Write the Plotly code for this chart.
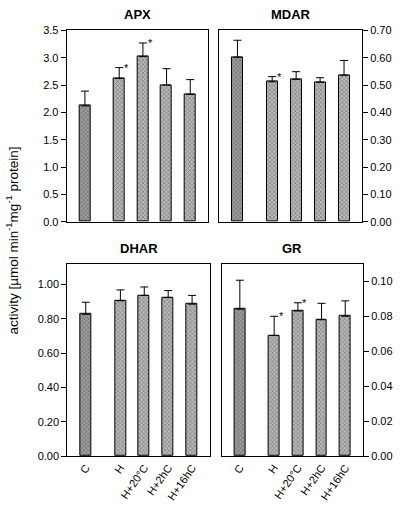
import plotly.graph_objects as go

categories = ["C", "H", "H+20°C", "H+2hC", "H+16hC"]
xpos = [0, 1.45, 2.45, 3.45, 4.45]

apx = [2.12, 2.62, 3.02, 2.50, 2.33]
apx_err = [0.27, 0.20, 0.25, 0.30, 0.27]
apx_sig = [False, True, True, False, False]

mdar = [0.602, 0.512, 0.521, 0.510, 0.536]
mdar_err = [0.062, 0.019, 0.028, 0.017, 0.054]
mdar_sig = [False, True, False, False, False]

dhar = [0.826, 0.905, 0.936, 0.924, 0.885]
dhar_err = [0.070, 0.063, 0.049, 0.040, 0.051]
dhar_sig = [False, False, False, False, False]

gr = [0.084, 0.069, 0.083, 0.078, 0.080]
gr_err = [0.0166, 0.011, 0.0047, 0.0094, 0.0088]
gr_sig = [False, True, True, False, False]

panels = [
    dict(name="APX", vals=apx, err=apx_err, sig=apx_sig, rng=[0, 3.5], dtick=0.5, fmt=".1f",
         xd=[0.1667, 0.52], yd=[0.5658, 0.9509], side="left", labels=False),
    dict(name="MDAR", vals=mdar, err=mdar_err, sig=mdar_sig, rng=[0, 0.7], dtick=0.1, fmt=".2f",
         xd=[0.5475, 0.905], yd=[0.5658, 0.9509], side="right", labels=False),
    dict(name="DHAR", vals=dhar, err=dhar_err, sig=dhar_sig, rng=[0, 1.12], dtick=0.2, fmt=".2f",
         xd=[0.1683, 0.525], yd=[0.0943, 0.4813], side="left", labels=True),
    dict(name="GR", vals=gr, err=gr_err, sig=gr_sig, rng=[0, 0.11], dtick=0.02, fmt=".2f",
         xd=[0.554, 0.9075], yd=[0.0943, 0.4813], side="right", labels=True),
]

fig = go.Figure()
font = "Liberation Sans, Arial, sans-serif"
annotations = []
layout = {}
for i, p in enumerate(panels):
    n = "" if i == 0 else str(i + 1)
    xa, ya = "x" + n, "y" + n
    bg = ["#9c9c9c"] + ["#b8b8b8"] * 4
    fg = ["#4a4a4a"] + ["#666666"] * 4
    fig.add_trace(go.Bar(
        x=xpos, y=p["vals"], width=0.46, xaxis=xa, yaxis=ya,
        marker=dict(color=bg, line=dict(color="#000", width=1),
                    pattern=dict(shape="x", size=3, solidity=0.4, fgcolor=fg,
                                 bgcolor=bg)),
        error_y=dict(type="data", symmetric=False, array=p["err"],
                     arrayminus=[0] * 5, color="#000", thickness=1, width=4),
        showlegend=False, hoverinfo="skip"))
    xaxis = dict(
        domain=p["xd"], anchor=ya, range=[-0.77, 5.2], showline=True, mirror=True,
        linecolor="#000", linewidth=1, showgrid=False, zeroline=False,
        showticklabels=p["labels"], ticks="")
    if p["labels"]:
        xaxis.update(tickmode="array", tickvals=xpos, ticktext=categories, tickangle=-55,
                     tickfont=dict(family=font, size=11, color="#000"))
    layout["xaxis" + n] = xaxis
    layout["yaxis" + n] = dict(
        domain=p["yd"], anchor=xa, range=p["rng"], dtick=p["dtick"], tick0=0,
        tickformat=p["fmt"], side=p["side"], showline=True, mirror=True,
        linecolor="#000", linewidth=1, showgrid=False, zeroline=False,
        ticks="outside", ticklen=5, tickcolor="#000",
        tickfont=dict(family=font, size=11, color="#000"))
    # panel title
    annotations.append(dict(text="<b>%s</b>" % p["name"], xref="paper", yref="paper",
                            x=(p["xd"][0] + p["xd"][1]) / 2, y=p["yd"][1] + 0.012,
                            xanchor="center", yanchor="bottom", showarrow=False,
                            font=dict(family=font, size=13, color="#000")))
    # significance stars
    for xv, v, e, s in zip(xpos, p["vals"], p["err"], p["sig"]):
        if s:
            annotations.append(dict(text="*", xref=xa, yref=ya, x=xv + 0.3, y=v + e,
                                    xanchor="center", yanchor="middle", showarrow=False,
                                    font=dict(family=font, size=11, color="#000")))

annotations.append(dict(text="activity [µmol min<sup>-1</sup>mg<sup>-1</sup> protein]",
                        xref="paper", yref="paper", x=0.03, y=0.528, textangle=-90,
                        xanchor="center", yanchor="middle", showarrow=False,
                        font=dict(family=font, size=13.5, color="#000")))

fig.update_layout(**layout)
fig.update_layout(width=400, height=509, margin=dict(l=0, r=0, t=0, b=0),
                  plot_bgcolor="#fff", paper_bgcolor="#fff", annotations=annotations,
                  bargap=0)
fig.write_html("out.html", config={"displayModeBar": False},
               post_script="document.body.style.margin='0';document.body.style.overflow='hidden';")
